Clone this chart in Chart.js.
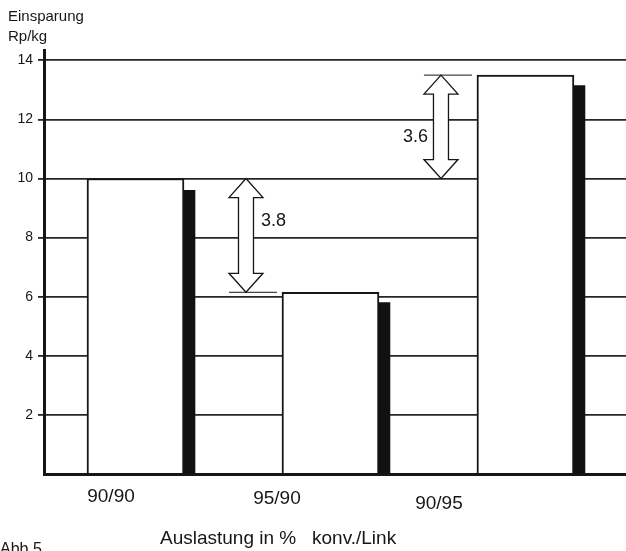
<!DOCTYPE html>
<html>
<head>
<meta charset="utf-8">
<script src="https://cdn.jsdelivr.net/npm/chart.js@4.4.0/dist/chart.umd.min.js"></script>
<style>
  html, body { margin: 0; padding: 0; background: #fff; }
  #wrap { width: 626px; height: 551px; position: relative; }
</style>
</head>
<body>
<div id="wrap"><canvas id="chart"></canvas></div>
<script>
// Einsparung (Rp/kg) je Auslastung konv./Link
const categories = ['90/90', '95/90', '90/95'];
const savingsWhite = [10.0, 6.15, 13.5];
const savingsBlack = [9.6, 5.8, 13.15];
const yTicks = [0, 2, 4, 6, 8, 10, 12, 14];
const differences = ['3.8', '3.6'];

const ink = '#161616';
const font = '"Liberation Sans", Arial, Helvetica, sans-serif';

// hollow double-headed arrow
function doubleArrow(ctx, cx, yA, yB) {
    const top = Math.min(yA, yB), bot = Math.max(yA, yB);
    const hh = 19, hw = 17, sw = 7.5;
    ctx.beginPath();
    ctx.moveTo(cx, top);
    ctx.lineTo(cx + hw, top + hh);
    ctx.lineTo(cx + sw, top + hh);
    ctx.lineTo(cx + sw, bot - hh);
    ctx.lineTo(cx + hw, bot - hh);
    ctx.lineTo(cx, bot);
    ctx.lineTo(cx - hw, bot - hh);
    ctx.lineTo(cx - sw, bot - hh);
    ctx.lineTo(cx - sw, top + hh);
    ctx.lineTo(cx - hw, top + hh);
    ctx.closePath();
    ctx.fillStyle = '#fff';
    ctx.fill();
    ctx.strokeStyle = ink;
    ctx.lineWidth = 1.3;
    ctx.stroke();
}

const annotations = {
    id: 'annotations',
    afterDatasetsDraw(chart) {
        const { ctx, scales: { x, y } } = chart;
        ctx.save();
        ctx.fillStyle = ink;

        // y axis title
        ctx.font = '15px ' + font;
        ctx.textAlign = 'left';
        ctx.textBaseline = 'alphabetic';
        ctx.fillText('Einsparung', 8, 21);
        ctx.fillText('Rp/kg', 8, 41);

        // category labels, printed a bit left of their bars
        const shiftX = [-73, -102, -135];
        const posY = [497, 499, 504];
        ctx.font = '19px ' + font;
        ctx.textAlign = 'center';
        ctx.textBaseline = 'middle';
        categories.forEach((c, i) => {
            ctx.fillText(c, x.getPixelForValue(i + 1) + shiftX[i], posY[i]);
        });

        // x axis title
        ctx.textAlign = 'left';
        ctx.fillText('Auslastung in %', 160, 539);
        ctx.fillText('konv./Link', 312, 539);

        ctx.font = '16px ' + font;
        ctx.textBaseline = 'top';
        ctx.fillText('Abb.5', 0, 542);

        // difference arrows: base bar (90/90) against the other two
        [1, 2].forEach((k, i) => {
            const cx = x.getPixelForValue(k) + 62;
            const yBase = y.getPixelForValue(savingsWhite[0]);
            const yEnd = y.getPixelForValue(savingsWhite[k]);
            ctx.strokeStyle = ink;
            ctx.lineWidth = 1;
            ctx.beginPath();
            ctx.moveTo(cx - 17, yEnd);
            ctx.lineTo(cx + 31, yEnd);
            ctx.stroke();
            doubleArrow(ctx, cx, yBase, yEnd);

            const mid = (yBase + yEnd) / 2;
            ctx.fillStyle = ink;
            ctx.font = '18px ' + font;
            ctx.textBaseline = 'middle';
            if (i === 0) {
                ctx.textAlign = 'left';
                ctx.fillText(differences[i], cx + 15, mid - 14);
            } else {
                ctx.textAlign = 'right';
                ctx.fillText(differences[i], cx - 13, mid + 10);
            }
        });
        ctx.restore();
    }
};

const ctx = document.getElementById('chart').getContext('2d');
new Chart(ctx, {
    type: 'bar',
    data: {
        datasets: [{
            data: savingsWhite.map((v, i) => ({ x: i + 1, y: v })),
            backgroundColor: '#fff',
            borderColor: ink,
            borderWidth: 2,
            borderSkipped: 'bottom',
            barThickness: 97
        }, {
            data: savingsBlack.map((v, i) => ({ x: i + 1, y: v })),
            backgroundColor: '#111',
            borderWidth: 0,
            barThickness: 11
        }]
    },
    options: {
        responsive: true,
        maintainAspectRatio: false,
        animation: false,
        layout: { padding: { top: 50, right: 0, bottom: 0, left: 0 } },
        plugins: { legend: { display: false }, tooltip: { enabled: false } },
        scales: {
            x: {
                type: 'linear',
                offset: false,
                min: 0.282,
                max: 3.267,
                ticks: { display: false },
                grid: { display: false, drawTicks: false, offset: false },
                border: { display: true, color: ink, width: 3 },
                afterFit: s => { s.height = 77; }
            },
            y: {
                min: 0,
                max: 14.35,
                afterBuildTicks: s => { s.ticks = yTicks.map(v => ({ value: v })); },
                ticks: {
                    color: ink,
                    font: { family: font, size: 14 },
                    padding: 5,
                    callback: v => (v === 0 ? '' : v)
                },
                grid: {
                    color: c => (c.tick && c.tick.value === 0 ? 'rgba(0,0,0,0)' : '#262626'),
                    tickColor: c => (c.tick && c.tick.value === 0 ? 'rgba(0,0,0,0)' : '#262626'),
                    lineWidth: 1.8,
                    tickLength: 6
                },
                border: { display: true, color: ink, width: 3 },
                afterFit: s => { s.width = 44; }
            }
        }
    },
    plugins: [annotations]
});
</script>
</body>
</html>
